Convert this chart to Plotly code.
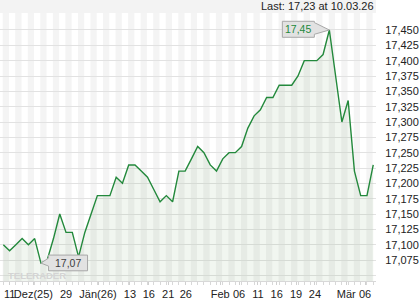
import plotly.graph_objects as go

# ---- data ----
values = [17.10, 17.09, 17.10, 17.11, 17.10, 17.11, 17.07, 17.075, 17.11, 17.15,
          17.12, 17.12, 17.08, 17.12, 17.15, 17.18, 17.18, 17.18, 17.21, 17.20,
          17.23, 17.23, 17.22, 17.21, 17.19, 17.17, 17.18, 17.17, 17.22, 17.22,
          17.24, 17.26, 17.25, 17.23, 17.22, 17.24, 17.25, 17.25, 17.26, 17.29,
          17.31, 17.32, 17.34, 17.34, 17.36, 17.36, 17.36, 17.375, 17.40, 17.40,
          17.40, 17.41, 17.45, 17.375, 17.30, 17.335, 17.22, 17.18, 17.18, 17.23]
day_index = list(range(len(values)))

x_tick_labels = ["11", "Dez(25)", "29", "Jän(26)", "13", "16", "21", "26",
                 "Feb", "06", "11", "16", "19", "24", "Mär", "06"]
x_tick_index = [1.0, 4.8, 10.0, 15.1, 20.2, 23.2, 26.3, 29.1,
                34.6, 37.6, 40.6, 43.6, 46.7, 49.7, 54.7, 57.7]

y_tick_values = [17.05, 17.075, 17.10, 17.125, 17.15, 17.175, 17.20, 17.225,
                 17.25, 17.275, 17.30, 17.325, 17.35, 17.375, 17.40, 17.425, 17.45]
last_date = "10.03.26"

def de(v, d):
    return f"{v:.{d}f}".replace(".", ",")

y_tick_text = ["" if i == 0 else de(v, 3) for i, v in enumerate(y_tick_values)]

FONT = "Liberation Sans, Arial, sans-serif"
GREEN = "#23893c"

fig = go.Figure()
fig.add_trace(go.Scatter(
    x=day_index, y=values, mode="lines",
    line=dict(color=GREEN, width=1.4),
    fill="tozeroy", fillcolor="rgba(70,130,50,0.075)",
    hoverinfo="skip", showlegend=False))

shapes = []
# alternating day stripes
for i in range(0, len(values) + 1, 2):
    shapes.append(dict(type="rect", xref="x", yref="paper",
                       x0=i - 0.1, x1=i + 0.9, y0=0, y1=1,
                       fillcolor="#f4f4f4", line_width=0, layer="below"))

# header band
shapes.append(dict(type="rect", xref="paper", yref="paper", x0=0, x1=1,
                   y0=1, y1=1.06, fillcolor="#f3f3f3", line_width=0, layer="below"))

imax = max(day_index, key=lambda i: values[i])
imin = min(day_index, key=lambda i: values[i])

# callout for max (pointer to the right)
shapes.append(dict(type="path", xref="x", yref="y", xsizemode="pixel", ysizemode="pixel",
                   xanchor=imax, yanchor=values[imax],
                   path="M-47,8.7 H-15 V7.4 L0,0 L-15,-4.3 V-7.3 H-47 Z",
                   fillcolor="#e2e2e2", line=dict(color="#a8a8a8", width=1), layer="above"))
# callout for min (pointer to the left)
shapes.append(dict(type="path", xref="x", yref="y", xsizemode="pixel", ysizemode="pixel",
                   xanchor=imin, yanchor=values[imin],
                   path="M0,0 L7.6,5 V8 H46.6 V-7.7 H7.6 V-3 Z",
                   fillcolor="#e2e2e2", line=dict(color="#a8a8a8", width=1), layer="above"))

annotations = [
    dict(x=0.015, y=0.02, xref="paper", yref="paper", text="<b>TELERADER</b>",
         showarrow=False, xanchor="left", yanchor="middle",
         font=dict(family=FONT, size=9.5, color="#d4d4d4")),
    dict(x=imax, y=values[imax], xref="x", yref="y", text=de(values[imax], 2),
         showarrow=False, xshift=-31, yshift=1, xanchor="center", yanchor="middle",
         font=dict(family=FONT, size=10.5, color=GREEN)),
    dict(x=imin, y=values[imin], xref="x", yref="y", text=de(values[imin], 2),
         showarrow=False, xshift=27, yshift=0, xanchor="center", yanchor="middle",
         font=dict(family=FONT, size=10.5, color="#404040")),
    dict(x=1, y=1.025, xref="paper", yref="paper", text=f"Last: {de(values[-1], 2)} at {last_date}",
         showarrow=False, xanchor="right", yanchor="middle",
         font=dict(family=FONT, size=11, color="#222")),
]

fig.update_layout(
    width=420, height=300,
    margin=dict(l=0, r=44, t=13, b=19, pad=0),
    paper_bgcolor="white", plot_bgcolor="white",
    shapes=shapes, annotations=annotations,
    xaxis=dict(range=[-0.53, 59.44], tickvals=x_tick_index, ticktext=x_tick_labels,
               tickangle=0,
               showgrid=False, zeroline=False, showline=True, linecolor="#d8d8d8",
               ticks="outside", ticklen=3, tickcolor="#d0d0d0",
               minor=dict(ticks="outside", dtick=1, tick0=0, ticklen=3, tickcolor="#d8d8d8"),
               tickfont=dict(family=FONT, size=11, color="#222"), fixedrange=True),
    yaxis=dict(range=[17.0408, 17.4777], side="right", tickvals=y_tick_values,
               ticktext=y_tick_text, showgrid=True, gridcolor="#e2e2e2", gridwidth=1,
               zeroline=False, showline=False, ticks="outside", ticklen=6,
               tickcolor="rgba(0,0,0,0)",
               tickfont=dict(family=FONT, size=11, color="#222"), fixedrange=True),
)

fig.write_html("out.html")
